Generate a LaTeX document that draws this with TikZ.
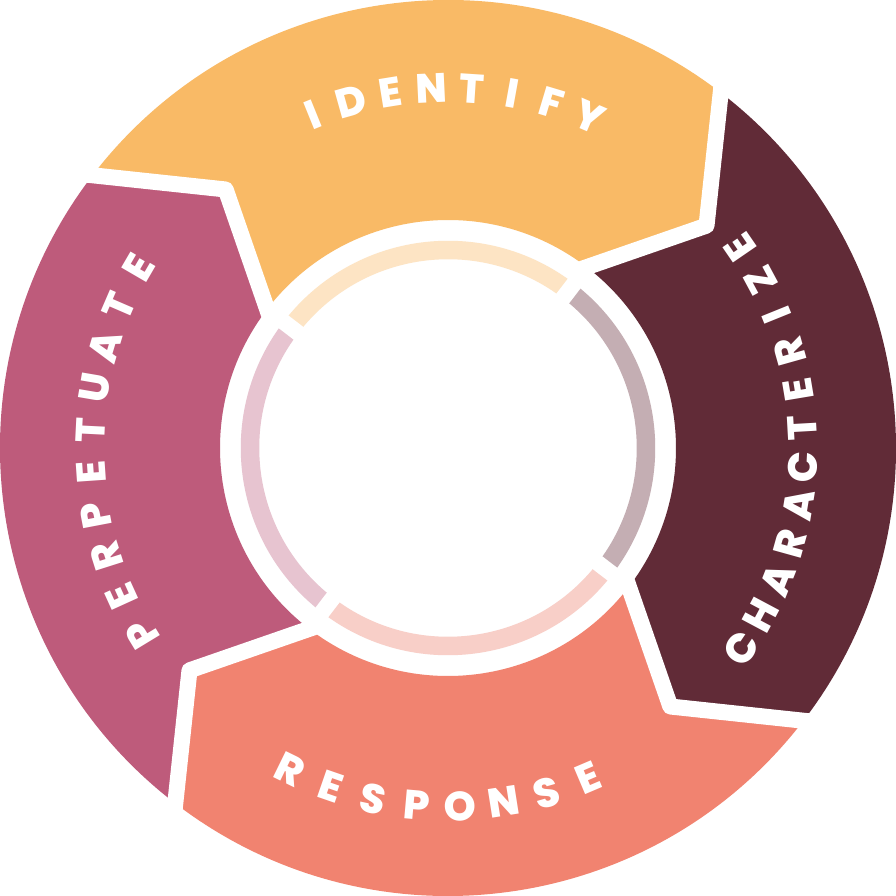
\documentclass[tikz,border=0pt]{standalone}
\usepackage{fontspec}
\usetikzlibrary{calc}
\newfontfamily\lblfam{Poppins ExtraBold}
\newcommand{\lblfont}{\lblfam\fontsize{41}{41}\selectfont}
\definecolor{cOrange}{HTML}{F9BA66}
\definecolor{cMaroon}{HTML}{612B37}
\definecolor{cSalmon}{HTML}{F18370}
\definecolor{cPink}{HTML}{BE5B7B}
\definecolor{rOrange}{HTML}{FDE4C4}
\definecolor{rMaroon}{HTML}{C4AEB3}
\definecolor{rSalmon}{HTML}{F8CFC8}
\definecolor{rPink}{HTML}{E7C4D0}
\newlength{\lw}
% #1 radius, #2 angle of first letter centre, #3 angle of last letter centre, #4 letters, #5 name prefix
\newcommand{\arclabel}[5]{%
  \gdef\alS{0}\gdef\alN{0}\gdef\alWf{0}\gdef\alWl{0}%
  \foreach \ch in {#4}{%
    \settowidth{\lw}{\lblfont\ch}%
    \pgfmathsetmacro{\tmp}{\alS+\lw}\xdef\alS{\tmp}%
    \pgfmathsetmacro{\tmp}{\lw}\xdef\alWl{\tmp}%
    \ifdim\alWf pt=0pt \xdef\alWf{\tmp}\fi
    \pgfmathtruncatemacro{\tmp}{\alN+1}\xdef\alN{\tmp}%
  }%
  \pgfmathsetmacro{\alDir}{sign(#3-#2)}%
  \pgfmathsetmacro{\alL}{abs(#3-#2)*pi/180*#1}%
  \pgfmathsetmacro{\alT}{(\alL-\alS+(\alWf+\alWl)/2)/(\alN-1)}%
  \pgfmathsetmacro{\tmp}{#2-\alDir*(\alWf/2)/(#1)*180/pi}\xdef\alA{\tmp}%
  \foreach \ch [count=\i] in {#4}{%
    \settowidth{\lw}{\lblfont\ch}%
    \pgfmathsetmacro{\a}{\alA+\alDir*(\lw/2)/(#1)*180/pi}%
    \node[lbl,rotate=\a+\alDir*90] (#5\i) at (\a:#1) {\ch};
    \pgfmathsetmacro{\tmp}{\alA+\alDir*(\lw+\alT)/(#1)*180/pi}\xdef\alA{\tmp}%
  }%
}
\tikzset{
  lbl/.style={font=\lblfont, text=white, inner sep=0pt, anchor=center},
  gapline/.style={white, line width=16pt, line join=round, line cap=butt},
  ringarc/.style={line width=18.5pt, line cap=butt},
  ringgap/.style={white, line width=16pt}
}
\begin{document}
\begin{tikzpicture}[x=1pt,y=1pt]
\useasboundingbox (-448,-448) rectangle (448,448);
\fill[white] (-448,-448) rectangle (448,448);
\foreach \k/\b in {0/52.5,1/-37.5,2/-127.5,3/142.5}{
  \coordinate (o\k) at (\b:448);
  \coordinate (t\k) at (\b-11.8:341);
  \coordinate (i\k) at (\b:228);
}
% segments
\fill[cOrange] (o3) arc[start angle=142.5, end angle=52.5, radius=448] -- (t0) -- (i0)
  arc[start angle=52.5, end angle=142.5, radius=228] -- (t3) -- cycle;
\fill[cMaroon] (o0) arc[start angle=52.5, end angle=-37.5, radius=448] -- (t1) -- (i1)
  arc[start angle=-37.5, end angle=52.5, radius=228] -- (t0) -- cycle;
\fill[cSalmon] (o1) arc[start angle=-37.5, end angle=-127.5, radius=448] -- (t2) -- (i2)
  arc[start angle=-127.5, end angle=-37.5, radius=228] -- (t1) -- cycle;
\fill[cPink] (o2) arc[start angle=-127.5, end angle=-217.5, radius=448] -- (t3) -- (i3)
  arc[start angle=-217.5, end angle=-127.5, radius=228] -- (t2) -- cycle;
% white separators
\foreach \k in {0,1,2,3}{
  \draw[gapline] ($(t\k)!1.25!(o\k)$) -- (t\k) -- ($(t\k)!1.05!(i\k)$);
}
% inner ring
\draw[ringarc, rOrange] (142.5:198) arc[start angle=142.5, end angle=52.5, radius=198];
\draw[ringarc, rMaroon] (52.5:198) arc[start angle=52.5, end angle=-37.5, radius=198];
\draw[ringarc, rSalmon] (-37.5:198) arc[start angle=-37.5, end angle=-127.5, radius=198];
\draw[ringarc, rPink] (-127.5:198) arc[start angle=-127.5, end angle=-217.5, radius=198];
\foreach \b in {52.5,-37.5,-127.5,142.5}{
  \draw[ringgap] (\b:180) -- (\b:216);
}
% labels
\arclabel{360}{112.1}{66.8}{I,D,E,N,T,I,F,Y}{id}
\arclabel{355}{-34.3}{34.5}{C,H,A,R,A,C,T,E,R,I,Z,E}{ch}
\arclabel{358.5}{243.9}{293}{R,E,S,P,O,N,S,E}{re}
\arclabel{358}{211.3}{149.8}{P,E,R,P,E,T,U,A,T,E}{pe}
\end{tikzpicture}
\end{document}
